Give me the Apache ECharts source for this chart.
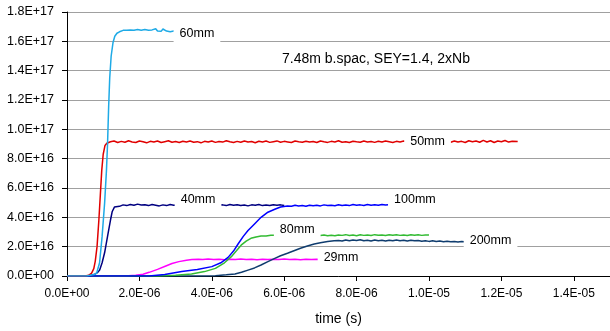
<!DOCTYPE html>
<html lang="en">

<head>
    <title>Cloud build-up</title>
    <meta charset="UTF-8">
    <style type="text/css">
        html,
        body {
            margin: 0px;
            background: #ffffff;
        }
    </style>
    <script type="text/javascript" src="https://cdn.jsdelivr.net/npm/echarts@6/dist/echarts.min.js"></script>
</head>

<body>
    <div id="chart" style="width: 610px; height: 331px;"></div>
</body>

<script type="text/javascript">
    // time in microseconds, density in units of 1E+16
    var xTicks = { min: 0, max: 15, interval: 2 };
    var yTicks = { min: 0, max: 18, interval: 2 };

    var s29mm = [[0, 0], [1.6, 0], [1.9, 0.05], [2.1, 0.12], [2.27, 0.25], [2.5, 0.45], [2.73, 0.68], [2.9, 0.85], [3.09, 0.98], [3.3, 1.08], [3.45, 1.12], [3.63, 1.14],
        [3.75, 1.12], [3.9, 1.16], [4.05, 1.13], [4.2, 1.15], [4.35, 1.11], [4.5, 1.14], [4.65, 1.12], [4.8, 1.16], [4.95, 1.13], [5.1, 1.15], [5.25, 1.11], [5.4, 1.14],
        [5.55, 1.12], [5.7, 1.15], [5.85, 1.13], [6.0, 1.16], [6.15, 1.12], [6.3, 1.14], [6.45, 1.11], [6.6, 1.15], [6.75, 1.13], [6.9, 1.14], [7.0, 1.12]];

    var s200mm = [[0, 0], [3.8, 0], [4.1, 0.02], [4.4, 0.08], [4.64, 0.14], [4.82, 0.25], [5.0, 0.4], [5.18, 0.55], [5.36, 0.75], [5.55, 0.98], [5.74, 1.2], [5.9, 1.38],
        [6.09, 1.55], [6.27, 1.72], [6.45, 1.89], [6.64, 2.05], [6.83, 2.18], [7.0, 2.27], [7.2, 2.35], [7.38, 2.4],
        [7.5, 2.42], [7.6, 2.38], [7.7, 2.45], [7.8, 2.4], [7.9, 2.46], [8.0, 2.42], [8.1, 2.47], [8.2, 2.41], [8.3, 2.44], [8.4, 2.39], [8.5, 2.45], [8.6, 2.4],
        [8.7, 2.43], [8.8, 2.38], [8.9, 2.44], [9.0, 2.4], [9.1, 2.46], [9.2, 2.41], [9.3, 2.43], [9.4, 2.38], [9.5, 2.44], [9.6, 2.4], [9.7, 2.42], [9.8, 2.37],
        [9.9, 2.41], [10.0, 2.36], [10.1, 2.4], [10.2, 2.35], [10.3, 2.38], [10.4, 2.34], [10.5, 2.37], [10.6, 2.33], [10.7, 2.36], [10.8, 2.32], [10.9, 2.35], [10.98, 2.33]];

    var s80mm = [[0, 0], [2.5, 0], [3.0, 0.05], [3.44, 0.14], [3.8, 0.3], [4.1, 0.52], [4.35, 0.9], [4.54, 1.32], [4.68, 1.72], [4.81, 2.1], [4.95, 2.38], [5.08, 2.57],
        [5.22, 2.66], [5.36, 2.73], [5.5, 2.72], [5.63, 2.78], [5.77, 2.77], [6.2, 2.75], [6.6, 2.78],
        [7.0, 2.76], [7.1, 2.8], [7.2, 2.75], [7.3, 2.78], [7.4, 2.74], [7.5, 2.8], [7.6, 2.77], [7.7, 2.82], [7.8, 2.76], [7.9, 2.79], [8.0, 2.75], [8.1, 2.81],
        [8.2, 2.77], [8.3, 2.8], [8.4, 2.76], [8.5, 2.82], [8.6, 2.78], [8.7, 2.8], [8.8, 2.76], [8.9, 2.81], [9.0, 2.78], [9.1, 2.82], [9.2, 2.77], [9.3, 2.8],
        [9.4, 2.76], [9.5, 2.81], [9.6, 2.78], [9.7, 2.82], [9.8, 2.77], [9.9, 2.8], [10.0, 2.79]];

    var s40mm = [[0, 0], [0.6, 0], [0.75, 0.1], [0.85, 0.25], [0.9, 0.4], [0.97, 0.9], [1.04, 1.6], [1.12, 2.7], [1.2, 3.8], [1.25, 4.4], [1.31, 4.7], [1.36, 4.8],
        [1.45, 4.75], [1.55, 4.85], [1.65, 4.8], [1.75, 4.88], [1.85, 4.82], [1.95, 4.9], [2.05, 4.84], [2.15, 4.86], [2.25, 4.8], [2.35, 4.88], [2.45, 4.83],
        [2.55, 4.78], [2.65, 4.85], [2.75, 4.8], [2.85, 4.88], [2.95, 4.82], [3.2, 4.85], [3.5, 4.8], [3.8, 4.86], [4.1, 4.82], [4.3, 4.85], [4.4, 4.8],
        [4.5, 4.88], [4.6, 4.83], [4.7, 4.86], [4.8, 4.8], [4.9, 4.84], [5.0, 4.78], [5.1, 4.85], [5.2, 4.82], [5.3, 4.87], [5.4, 4.8], [5.5, 4.84], [5.6, 4.8],
        [5.7, 4.86], [5.8, 4.82], [5.9, 4.85], [6.0, 4.8]];

    var s100mm = [[0, 0], [2.27, 0], [2.7, 0.1], [3.17, 0.3], [3.6, 0.45], [4.0, 0.64], [4.25, 0.9], [4.45, 1.27], [4.6, 1.7], [4.73, 2.2], [4.87, 2.7], [5.0, 3.1],
        [5.18, 3.55], [5.36, 4.0], [5.55, 4.35], [5.74, 4.55], [5.9, 4.7], [6.09, 4.77],
        [6.2, 4.75], [6.3, 4.82], [6.4, 4.78], [6.5, 4.8], [6.6, 4.76], [6.7, 4.83], [6.8, 4.79], [6.9, 4.82], [7.0, 4.78], [7.1, 4.85], [7.2, 4.8], [7.3, 4.83],
        [7.4, 4.79], [7.5, 4.86], [7.6, 4.81], [7.7, 4.84], [7.8, 4.8], [7.9, 4.87], [8.0, 4.82], [8.1, 4.85], [8.2, 4.81], [8.3, 4.88], [8.4, 4.83], [8.5, 4.86],
        [8.6, 4.82], [8.7, 4.88], [8.8, 4.84], [8.88, 4.86]];

    var s50mm = [[0, 0], [0.5, 0], [0.6, 0.05], [0.68, 0.2], [0.74, 0.5], [0.78, 1.0], [0.83, 2.0], [0.88, 3.8], [0.92, 5.5], [0.96, 7.2], [1.0, 8.3], [1.05, 8.9],
        [1.1, 9.05], [1.15, 9.0], [1.2, 9.15],
        [1.3, 9.2], [1.4, 9.1], [1.5, 9.18], [1.6, 9.12], [1.7, 9.22], [1.8, 9.14], [1.9, 9.1], [2.0, 9.2], [2.1, 9.15], [2.2, 9.08], [2.3, 9.18], [2.4, 9.13],
        [2.5, 9.2], [2.6, 9.1], [2.7, 9.16], [2.8, 9.22], [2.9, 9.12], [3.0, 9.17], [3.1, 9.1], [3.2, 9.19], [3.3, 9.14], [3.4, 9.2], [3.5, 9.12], [3.6, 9.16],
        [3.7, 9.08], [3.8, 9.18], [3.9, 9.14], [4.0, 9.2], [4.1, 9.11], [4.2, 9.17], [4.3, 9.13], [4.4, 9.22], [4.5, 9.15], [4.6, 9.1], [4.7, 9.18], [4.8, 9.12],
        [4.9, 9.2], [5.0, 9.14], [5.1, 9.17], [5.2, 9.09], [5.3, 9.19], [5.4, 9.13], [5.5, 9.2], [5.6, 9.11], [5.7, 9.16], [5.8, 9.21], [5.9, 9.12], [6.0, 9.18],
        [6.1, 9.14], [6.2, 9.1], [6.3, 9.2], [6.4, 9.15], [6.5, 9.12], [6.6, 9.19], [6.7, 9.13], [6.8, 9.17], [6.9, 9.1], [7.0, 9.2], [7.1, 9.15], [7.2, 9.11],
        [7.3, 9.18], [7.4, 9.14], [7.5, 9.22], [7.6, 9.12], [7.7, 9.16], [7.8, 9.1], [7.9, 9.19], [8.0, 9.15], [8.1, 9.12], [8.2, 9.2], [8.3, 9.14], [8.4, 9.17],
        [8.5, 9.11], [8.6, 9.19], [8.7, 9.13], [8.8, 9.2], [8.9, 9.15], [9.0, 9.1], [9.1, 9.18], [9.2, 9.14], [9.3, 9.2], [9.5, 9.15], [9.7, 9.18], [9.9, 9.12],
        [10.1, 9.17], [10.3, 9.14], [10.5, 9.18], [10.6, 9.12], [10.7, 9.2], [10.8, 9.14], [10.9, 9.18], [11.0, 9.1], [11.1, 9.22], [11.2, 9.15], [11.3, 9.2],
        [11.4, 9.12], [11.5, 9.25], [11.6, 9.14], [11.7, 9.22], [11.8, 9.1], [11.9, 9.2], [12.0, 9.15], [12.1, 9.24], [12.2, 9.13], [12.3, 9.19], [12.45, 9.17]];

    var s60mm = [[0, 0], [0.55, 0], [0.65, 0.05], [0.75, 0.1], [0.82, 0.2], [0.9, 0.9], [0.97, 2.7], [1.04, 5], [1.09, 7.2], [1.12, 9], [1.15, 11.5], [1.18, 13.5],
        [1.22, 15], [1.27, 15.9], [1.32, 16.35], [1.38, 16.55], [1.45, 16.65], [1.5, 16.6], [1.55, 16.75], [1.6, 16.68], [1.65, 16.76], [1.7, 16.66], [1.75, 16.78],
        [1.8, 16.7], [1.85, 16.76], [1.9, 16.66], [1.95, 16.8], [2.0, 16.72], [2.05, 16.76], [2.1, 16.68], [2.15, 16.8], [2.2, 16.72], [2.25, 16.76], [2.3, 16.66],
        [2.35, 16.78], [2.4, 16.72], [2.45, 16.86], [2.5, 16.7], [2.55, 16.78], [2.6, 16.68], [2.65, 16.84], [2.7, 16.74], [2.75, 16.7], [2.8, 16.8], [2.85, 16.66],
        [2.9, 16.78], [2.95, 16.7], [3.0, 16.76]];

    var labelNames = ['29mm', '200mm', '80mm', '40mm', '100mm', '50mm', '60mm'];
    var labelCoords = [[7.57, 1.23], [11.7, 2.45], [6.36, 3.2], [3.62, 5.18], [9.61, 5.18], [9.96, 9.2], [3.59, 16.56]];
    var seriesData = [s29mm, s200mm, s80mm, s40mm, s100mm, s50mm, s60mm];
    var colors = ['#ff00ff', '#0f3c6e', '#33bb33', '#000080', '#0000ff', '#e00000', '#1eaae6'];
    var note = '7.48m b.spac, SEY=1.4, 2xNb';

    function sci(v, shift) {
        if (v === 0) return '0.0E+00';
        var e = Math.floor(Math.log10(Math.abs(v)));
        var m = (v / Math.pow(10, e)).toFixed(1);
        var ex = e + shift;
        var s = ex < 0 ? '-' : '+';
        ex = Math.abs(ex);
        return m + 'E' + s + (ex < 10 ? '0' + ex : ex);
    }

    var series = [];
    for (var i = 0; i < seriesData.length; i++) {
        series.push({
            type: 'line',
            name: labelNames[i],
            data: seriesData[i],
            showSymbol: false,
            silent: true,
            lineStyle: { color: colors[i], width: 1.5 },
            itemStyle: { color: colors[i] },
            markPoint: {
                symbol: 'rect',
                symbolSize: 1,
                silent: true,
                itemStyle: { color: 'rgba(0,0,0,0)' },
                label: {
                    show: true,
                    position: 'inside',
                    formatter: '{b}',
                    color: '#000',
                    fontFamily: 'Arial',
                    fontSize: 12.5,
                    backgroundColor: '#ffffff',
                    padding: [4, 6]
                },
                data: [{ name: labelNames[i], coord: labelCoords[i] }]
            }
        });
    }

    var chart = echarts.init(document.getElementById('chart'));
    chart.setOption({
        animation: false,
        textStyle: { fontFamily: 'Arial' },
        grid: { left: 67, right: -5, top: 12, bottom: 55 },
        xAxis: {
            type: 'value',
            min: xTicks.min,
            max: xTicks.max,
            interval: xTicks.interval,
            name: 'time (s)',
            nameLocation: 'middle',
            nameGap: 36,
            nameTextStyle: { color: '#000', fontSize: 14, fontFamily: 'Arial' },
            axisLine: { lineStyle: { color: '#000', width: 1 } },
            axisTick: { show: true, length: 5, lineStyle: { color: '#000' } },
            axisLabel: {
                color: '#000', fontSize: 12, margin: 12, showMaxLabel: false,
                formatter: function (v) { return sci(v, -6); }
            },
            splitLine: { show: false }
        },
        yAxis: {
            type: 'value',
            min: yTicks.min,
            max: yTicks.max,
            interval: yTicks.interval,
            axisLine: { show: true, lineStyle: { color: '#000', width: 1 } },
            axisTick: { show: true, length: 5, lineStyle: { color: '#000' } },
            axisLabel: {
                color: '#000', fontSize: 12.5, margin: 13,
                formatter: function (v) { return sci(v, 16); }
            },
            splitLine: { show: true, lineStyle: { color: '#a0a0a0', width: 1.2 } }
        },
        graphic: [{
            type: 'text',
            left: 282,
            top: 52,
            style: { text: note, font: '14px Arial', fill: '#000' }
        }],
        series: series
    });
</script>

</html>
